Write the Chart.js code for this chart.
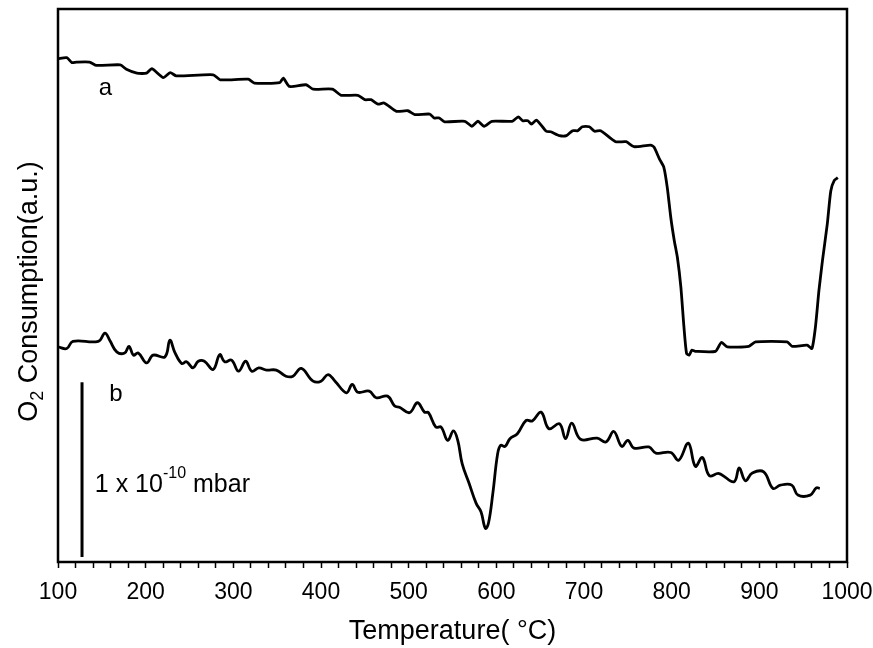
<!DOCTYPE html>
<html>
<head>
<meta charset="utf-8">
<script src="https://cdn.jsdelivr.net/npm/chart.js@4"></script>
<style>
  body { margin: 0; background: #fff; }
  #wrap { width: 873px; height: 648px; }
</style>
</head>
<body>
<div id="wrap"><canvas id="myChart"></canvas></div>
<script>
// curve a: temperature (°C) and O2 signal (a.u.)
const tempA = [100, 110, 116, 121, 136, 144, 171, 178, 190, 201, 207, 220, 228, 235, 277, 285, 317, 324, 353, 357,
  364, 383, 391, 413, 423, 442, 450, 457, 465, 472, 486, 499, 507, 524, 529, 535, 541, 564, 572, 579,
  586, 595, 618, 625, 630, 636, 640, 646, 657, 662, 672, 680, 687, 693, 698, 706, 712, 719, 736, 748,
  757, 776, 780, 786, 791, 795, 799, 803, 806.5, 810.5, 814, 817, 820, 823, 827, 850, 856.6, 863.4, 888, 895.7,
  931.7, 937.4, 954.5, 960, 964, 968, 972, 977.5, 981.5, 985.5, 989.5];
const signalA = [91.0, 91.2, 90.3, 90.4, 90.4, 89.8, 89.9, 89.1, 88.4, 88.4, 89.2, 87.6, 88.5, 87.9, 88.1, 87.2, 87.3, 86.6, 86.7, 87.5,
  86.0, 86.3, 85.5, 85.5, 84.4, 84.4, 83.6, 83.6, 82.8, 83.0, 81.5, 81.6, 80.9, 81.0, 80.3, 80.3, 79.6, 79.7, 78.8, 79.7,
  78.8, 79.7, 79.7, 80.5, 79.8, 79.8, 79.2, 79.9, 77.9, 77.8, 77.1, 77.1, 78.0, 78.0, 78.7, 78.7, 77.9, 78.0, 76.0, 76.0,
  75.1, 75.4, 75.0, 72.9, 71.4, 67.7, 62.3, 58.1, 55.1, 49.7, 42.5, 37.7, 37.4, 38.3, 38.1, 38.1, 39.7, 38.9, 39.0, 39.8,
  39.8, 39.0, 39.2, 38.6, 42.5, 49.1, 54.5, 61.1, 67.1, 69.0, 69.5];

// curve b
const tempB = [100, 110, 117, 146, 153.5, 159, 167, 176, 181, 186, 191.5, 201, 208.5, 222, 227.6, 233, 241, 246.6, 254, 260,
  267, 277, 284.5, 290, 298, 306, 314, 321, 329, 338, 349, 360, 368, 377.5, 391, 400, 408, 416, 429, 435.6,
  442, 455, 463, 476, 484, 489.5, 501, 510, 518, 522.6, 531, 537, 544.5, 551, 556, 561, 569, 577, 582.5, 587.5,
  591, 596, 601.5, 605, 610, 615.5, 624, 634, 641, 651, 660, 672, 679, 686, 696, 715, 725, 734, 743, 750,
  757, 774, 782, 799, 808, 819, 827, 835, 843, 854, 871, 877, 884, 892, 905, 915.5, 924, 937, 944, 958,
  965, 969];
const signalB = [38.9, 38.6, 39.9, 39.9, 41.4, 40.1, 38.0, 37.8, 39.0, 37.4, 37.8, 36.0, 37.4, 37.1, 40.1, 38.0, 35.9, 36.2, 35.1, 36.3,
  36.3, 34.8, 37.5, 36.2, 36.5, 34.5, 36.3, 34.5, 35.1, 34.7, 34.7, 33.6, 33.6, 35.0, 32.7, 32.7, 33.9, 32.7, 30.6, 32.1,
  30.7, 30.9, 29.7, 30.0, 28.2, 28.0, 27.0, 28.8, 27.1, 27.0, 24.4, 24.4, 22.0, 23.7, 22.0, 17.8, 14.2, 10.6, 9.1, 6.1,
  7.0, 12.4, 19.6, 21.1, 20.9, 22.3, 23.2, 25.6, 25.5, 27.1, 24.1, 25.0, 22.3, 25.1, 22.2, 22.4, 21.7, 23.6, 20.9, 22.0,
  20.6, 20.8, 19.7, 19.8, 18.4, 21.5, 17.3, 18.9, 15.6, 16.0, 14.5, 17.0, 14.7, 16.1, 16.3, 13.3, 13.9, 13.9, 12.1, 12.1,
  13.4, 13.3];

// scale bar (1 x 10^-10 mbar)
const scaleBarTemp = [127.4, 127.4];
const scaleBarSignal = [0.9, 32.5];

const xTickLabels = [100, 200, 300, 400, 500, 600, 700, 800, 900, 1000];

// text labels in data units
const curveLabels = [
  { text: "a", x: 154, y: 85.7 },
  { text: "b", x: 166, y: 30.3 }
];
const scaleLabel = { x: 142, y: 12.7 };

const toPoints = (xs, ys) => xs.map((x, i) => ({ x: x, y: ys[i] }));

const FONT = "'Liberation Sans', Arial, Helvetica, sans-serif";

const framePlugin = {
  id: "frame",
  afterDatasetsDraw(chart) {
    const { ctx, chartArea: a, scales } = chart;
    ctx.save();
    ctx.strokeStyle = "#000";
    ctx.lineWidth = 2.5;
    ctx.strokeRect(a.left, a.top, a.right - a.left, a.bottom - a.top);

    // curve labels
    ctx.fillStyle = "#000";
    ctx.textAlign = "center";
    ctx.textBaseline = "middle";
    ctx.font = "24px " + FONT;
    curveLabels.forEach(l => {
      ctx.fillText(l.text, scales.x.getPixelForValue(l.x), scales.y.getPixelForValue(l.y));
    });

    // scale bar label with superscript
    ctx.textAlign = "left";
    ctx.textBaseline = "alphabetic";
    let sx = scales.x.getPixelForValue(scaleLabel.x);
    const sy = scales.y.getPixelForValue(scaleLabel.y);
    ctx.font = "25px " + FONT;
    ctx.fillText("1 x 10", sx, sy);
    sx += ctx.measureText("1 x 10").width;
    ctx.font = "16px " + FONT;
    ctx.fillText("-10", sx, sy - 14);
    sx += ctx.measureText("-10").width;
    ctx.font = "25px " + FONT;
    ctx.fillText(" mbar", sx, sy);

    // y axis title with subscript
    const cy = (a.top + a.bottom) / 2 + 6;
    ctx.translate(37, cy);
    ctx.rotate(-Math.PI / 2);
    ctx.font = "27px " + FONT;
    const w1 = ctx.measureText("O").width;
    const w3 = ctx.measureText(" Consumption(a.u.)").width;
    ctx.font = "18px " + FONT;
    const w2 = ctx.measureText("2").width;
    let tx = -(w1 + w2 + w3) / 2;
    ctx.font = "27px " + FONT;
    ctx.fillText("O", tx, 0);
    tx += w1;
    ctx.font = "18px " + FONT;
    ctx.fillText("2", tx, 6);
    tx += w2;
    ctx.font = "27px " + FONT;
    ctx.fillText(" Consumption(a.u.)", tx, 0);
    ctx.restore();
  }
};

new Chart("myChart", {
  type: "line",
  data: {
    datasets: [
      {
        label: "a",
        data: toPoints(tempA, signalA),
        borderColor: "#000",
        borderWidth: 2.8,
        pointRadius: 0,
        tension: 0.2,
        fill: false,
      },
      {
        label: "b",
        data: toPoints(tempB, signalB),
        borderColor: "#000",
        borderWidth: 2.8,
        pointRadius: 0,
        tension: 0.4,
        fill: false,
      },
      {
        label: "scale",
        data: toPoints(scaleBarTemp, scaleBarSignal),
        borderColor: "#000",
        borderWidth: 3,
        pointRadius: 0,
        fill: false,
      },
    ],
  },
  options: {
    responsive: true,
    maintainAspectRatio: false,
    animation: false,
    layout: { padding: { top: 9, right: 26, left: 0, bottom: 0 } },
    plugins: {
      legend: { display: false },
      tooltip: { enabled: false },
    },
    scales: {
      x: {
        type: "linear",
        min: 100,
        max: 1000,
        afterFit: (s) => { s.height = 86; s.paddingLeft = 0; s.paddingRight = 0; },
        border: { display: false },
        grid: {
          drawOnChartArea: false,
          drawTicks: true,
          tickLength: 6,
          tickWidth: 1.5,
          tickColor: "#000",
        },
        ticks: {
          stepSize: 20,
          autoSkip: false,
          maxRotation: 0,
          padding: 11,
          color: "#000",
          font: { family: FONT, size: 23 },
          callback: (v) => (xTickLabels.includes(v) ? String(v) : ""),
        },
        title: {
          display: true,
          text: "Temperature( °C)",
          color: "#000",
          font: { family: FONT, size: 27 },
          padding: { top: 0, bottom: 0 },
        },
      },
      y: {
        min: 0,
        max: 100,
        afterFit: (s) => { s.width = 58; },
        border: { display: false },
        grid: { display: false },
        ticks: { display: false },
      },
    },
  },
  plugins: [framePlugin],
});
</script>
</body>
</html>
